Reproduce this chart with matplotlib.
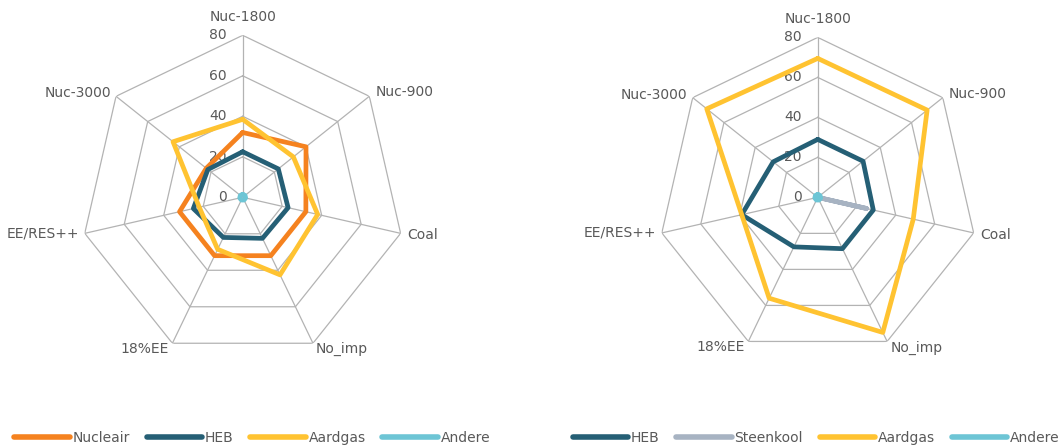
import numpy as np
import matplotlib
matplotlib.use("Agg")
import matplotlib.pyplot as plt

categories = ["Nuc-1800", "Nuc-900", "Coal", "No_imp", "18%EE", "EE/RES++", "Nuc-3000"]
r_ticks = [0, 20, 40, 60, 80]

# left chart
left_names = ["Nucleair", "HEB", "Aardgas", "Andere"]
left_nucleair = [32, 40, 32, 32, 32, 32, 23]
left_heb = [22.5, 22.5, 23, 22.5, 22, 25, 22]
left_aardgas = [38.5, 32, 38, 42.5, 28.5, 22, 44]
left_andere = [1.5, 1.5, 1.5, 1.5, 1.5, 1.5, 1.5]

# right chart
right_names = ["HEB", "Steenkool", "Aardgas", "Andere"]
right_heb = [29, 29, 28.5, 28.5, 27.5, 39, 28.5]
right_steenkool = [0, 0, 25, 0, 0, 0, 0]
right_aardgas = [69.5, 70, 49, 75, 56, 39, 71]
right_andere = [1.5, 1.5, 1.5, 1.5, 1.5, 1.5, 1.5]

C_ORANGE = "#F5821F"
C_TEAL = "#255F75"
C_YELLOW = "#FFC331"
C_CYAN = "#6DC5D5"
C_GREY = "#A7B3C2"
TXT = "#595959"
GRID = "#B3B3B3"

plt.rcParams["font.family"] = ["DejaVu Sans"]

fig = plt.figure(figsize=(10.6, 4.48), dpi=100)
angles = np.linspace(0, 2 * np.pi, len(categories), endpoint=False)
closed = np.append(angles, angles[0])

# label offsets in pixels (dx, dy, ha, va)
label_pos = [(0, 18, "center", "center"), (6, 4, "left", "center"),
             (7, -2, "left", "center"), (3, -6, "left", "center"),
             (-4, -6, "right", "center"), (-6, 0, "right", "center"),
             (-5, 3, "right", "center")]


def radar(rect, series, colors, names, legend_x):
    ax = fig.add_axes(rect, projection="polar")
    ax.set_theta_offset(np.pi / 2)
    ax.set_theta_direction(-1)
    ax.set_ylim(0, 80)
    ax.grid(False)
    ax.spines["polar"].set_visible(False)
    ax.set_xticks([]); ax.set_yticks([])
    ax.patch.set_alpha(0)
    for r in r_ticks[1:]:
        ax.plot(closed, [r] * len(closed), color=GRID, lw=0.9, zorder=1)
    for a in angles:
        ax.plot([a, a], [0, 80], color=GRID, lw=0.9, zorder=1)
    for r in r_ticks:
        ax.annotate(str(r), xy=(0, r), xytext=(-16, 0), textcoords="offset pixels",
                    ha="right", va="center", fontsize=10, color=TXT, zorder=2)
    for a, cat, (dx, dy, ha, va) in zip(angles, categories, label_pos):
        ax.annotate(cat, xy=(a, 80), xytext=(dx, dy), textcoords="offset pixels",
                    ha=ha, va=va, fontsize=10, color=TXT, annotation_clip=False)
    handles = []
    for vals, col, name in zip(series, colors, names):
        v = np.append(vals, vals[0])
        h, = ax.plot(closed, v, color=col, lw=3.4, solid_joinstyle="round",
                     solid_capstyle="round", label=name, zorder=3)
        handles.append(h)
    leg = fig.legend(handles, names, loc="center", bbox_to_anchor=(legend_x, 0.022),
                     ncol=4, frameon=False, fontsize=10, handlelength=4.0,
                     handletextpad=0.2, columnspacing=1.2, labelcolor=TXT)
    for ln in leg.get_lines():
        ln.set_linewidth(4)
    return ax


radar([0.0761, 0.198, 0.3057, 0.7232],
      [left_nucleair, left_heb, left_aardgas, left_andere],
      [C_ORANGE, C_TEAL, C_YELLOW, C_CYAN], left_names, 0.238)
radar([0.6205, 0.2025, 0.3019, 0.714],
      [right_heb, right_steenkool, right_aardgas, right_andere],
      [C_TEAL, C_GREY, C_YELLOW, C_CYAN], right_names, 0.77)

fig.savefig("out.png", dpi=100)
